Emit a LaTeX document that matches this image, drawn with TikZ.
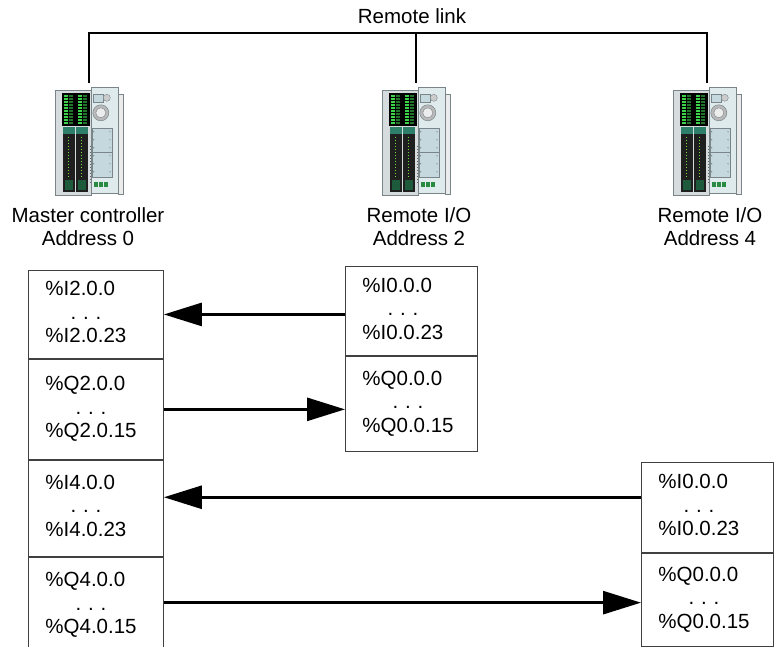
\documentclass[tikz,border=0pt]{standalone}
\usepackage{fontspec}
\setmainfont{Liberation Sans}
\usetikzlibrary{arrows.meta}

\definecolor{casefill}{HTML}{D6DCDE}
\definecolor{caseline}{HTML}{7A8589}
\definecolor{panelfill}{HTML}{C4D8DE}
\definecolor{ledgreen}{HTML}{3CD24A}
\definecolor{darkgreen}{HTML}{1E5A3C}
\definecolor{headteal}{HTML}{2E7F6A}
\definecolor{boxline}{HTML}{404040}

% address range: first address, dots, last address
\newcommand\iolist[2]{\begin{tabular}{@{}l@{}}\%#1\\\multicolumn{1}{@{}c@{}}{.\ .\ .}\\\%#2\end{tabular}}

\tikzset{
  plc/.pic={
    % I/O module housing
    \filldraw[fill=casefill,draw=caseline,line width=0.6pt] (0,3) rectangle (36,108);
    % CPU housing
    \filldraw[fill=panelfill!55!white,draw=caseline,line width=0.6pt] (36,0) rectangle (63,106);
    % side cover
    \filldraw[fill=white!92!black,draw=caseline,line width=0.5pt] (63,6) rectangle (68,106);
    % LED window
    \fill[black] (7,5) rectangle (35,38);
    \foreach \k in {0,...,9}{
      \fill[ledgreen] (9,{7.5+3*\k}) rectangle (13,{9+3*\k});
      \fill[ledgreen!55!black] (14,{7.5+3*\k}) rectangle (18,{9+3*\k});
      \fill[ledgreen] (23,{7.5+3*\k}) rectangle (27,{9+3*\k});
      \fill[ledgreen!55!black] (28,{7.5+3*\k}) rectangle (32,{9+3*\k});
    }
    % terminal strips
    \foreach \sx in {8,21}{
      \fill[black!88] (\sx,39) rectangle (\sx+12,104);
      \fill[headteal] (\sx,39) rectangle (\sx+12,46);
      \fill[darkgreen] (\sx+2,92) rectangle (\sx+10,102);
      \foreach \k in {0,...,13}
        \fill[ledgreen!70!yellow] (\sx+5.5,{49+3*\k}) rectangle (\sx+6.5,{50+3*\k});
    }
    % connector pins
    \foreach \k in {0,...,12}
      \fill[black!60] (35.2,{58+3*\k}) rectangle (36.4,{59+3*\k});
    % CPU front: label, LED, knob
    \filldraw[fill=panelfill,draw=caseline,line width=0.4pt] (38,6) rectangle (48,14);
    \filldraw[fill=gray!40,draw=caseline,line width=0.4pt] (52,10) circle (3.5pt);
    \filldraw[fill=gray!55,draw=caseline,line width=0.5pt] (46,25) circle (8pt);
    \filldraw[fill=white!85!gray,draw=caseline,line width=0.4pt] (46,25) circle (5pt);
    % cover plate
    \filldraw[fill=panelfill,draw=caseline,line width=0.4pt] (37,40) rectangle (57,89);
    \draw[caseline,line width=0.4pt] (37,64) -- (57,64);
    \foreach \yy in {44,52,60,68,76,84}{
      \fill[caseline] (38.8,\yy) circle (0.7pt);
      \fill[caseline] (55.2,\yy) circle (0.7pt);
    }
    % status icons
    \foreach \ix in {39,44,49}
      \fill[darkgreen!60!ledgreen] (\ix,94) rectangle (\ix+4,99);
  },
  devslot/.style={minimum width=68pt,minimum height=108pt,inner sep=0pt},
  iobox/.style={draw=boxline,line width=0.9pt,anchor=north west,
    inner ysep=0pt,inner xsep=17pt,align=left},
  bus/.style={line width=2.8pt},
  xfer/.style={line width=2.8pt,-{Triangle[length=38pt,width=23pt]}},
  lbl/.style={align=center}
}

\begin{document}
\begin{tikzpicture}[x=1pt,y=-1pt,font=\fontsize{20.5}{23.5}\selectfont]
\useasboundingbox (0,0) rectangle (774,647);

% remote link bus
\node[lbl] (rl) at (412,16) {Remote link};
\node[devslot] (dev0) at (89,142) {};
\node[devslot] (dev2) at (416,142) {};
\node[devslot] (dev4) at (707,142) {};
\pic at (dev0.north west) {plc};
\pic at (dev2.north west) {plc};
\pic at (dev4.north west) {plc};
\coordinate (tap0) at (89,33);
\coordinate (tap2) at (416,33);
\coordinate (tap4) at (707,33);
\draw[bus] ([yshift=5pt]dev0.north) -- (tap0) -- (tap4) -- ([yshift=5pt]dev4.north);
\draw[bus] ([yshift=5pt]dev2.north) -- (tap2);

\node[lbl] (lab0) at (88,226.5) {Master controller\\Address 0};
\node[lbl] (lab2) at (419,226.5) {Remote I/O\\Address 2};
\node[lbl] (lab4) at (710,226.5) {Remote I/O\\Address 4};

% master controller image table
\node[iobox,text width=101pt,minimum height=88pt] (m1) at (28,270) {\iolist{I2.0.0}{I2.0.23}};
\node[iobox,text width=101pt,minimum height=100pt] (m2) at (m1.south west) {\iolist{Q2.0.0}{Q2.0.15}};
\node[iobox,text width=101pt,minimum height=96pt] (m3) at (m2.south west) {\iolist{I4.0.0}{I4.0.23}};
\node[iobox,text width=101pt,minimum height=97pt] (m4) at (m3.south west) {\iolist{Q4.0.0}{Q4.0.15}};

% remote I/O at address 2
\node[iobox,text width=98pt,minimum height=89pt] (r1) at (345,266) {\iolist{I0.0.0}{I0.0.23}};
\node[iobox,text width=98pt,minimum height=95pt] (r2) at (r1.south west) {\iolist{Q0.0.0}{Q0.0.15}};

% remote I/O at address 4
\node[iobox,text width=98pt,minimum height=90pt] (s1) at (641,462) {\iolist{I0.0.0}{I0.0.23}};
\node[iobox,text width=98pt,minimum height=93pt] (s2) at (s1.south west) {\iolist{Q0.0.0}{Q0.0.15}};

% data exchange
\coordinate (a3) at ([yshift=11pt]m3.east);
\coordinate (a4) at ([yshift=3pt]m4.east);
\draw[xfer] (r1.west |- m1.east) -- (m1.east);
\draw[xfer] (m2.east) -- (m2.east -| r2.west);
\draw[xfer] (a3 -| s1.west) -- (a3);
\draw[xfer] (a4) -- (a4 -| s2.west);
\end{tikzpicture}
\end{document}
